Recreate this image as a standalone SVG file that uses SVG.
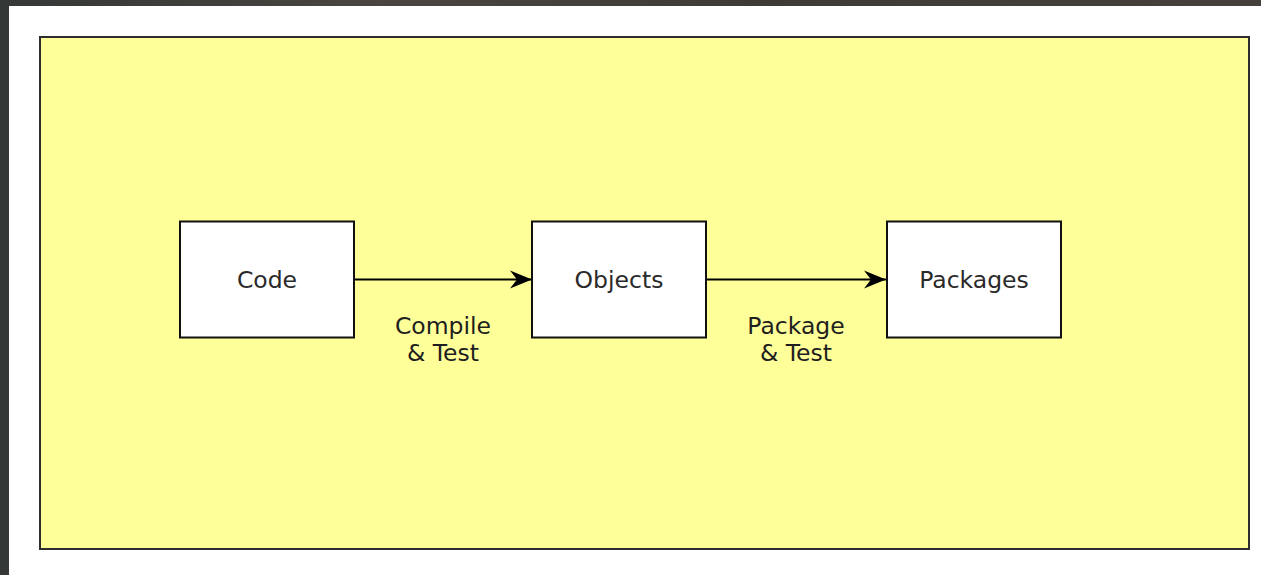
<svg xmlns="http://www.w3.org/2000/svg" width="1261" height="575" viewBox="0 0 1261 575">
  <defs>
    <linearGradient id="backdrop" x1="0" y1="0" x2="1" y2="0">
      <stop offset="0" stop-color="#343836"/>
      <stop offset="0.3" stop-color="#4a4540"/>
      <stop offset="0.6" stop-color="#3e3b37"/>
      <stop offset="1" stop-color="#45403a"/>
    </linearGradient>
    <marker id="arrow" viewBox="-23 -10 24 20" refX="0" refY="0" markerWidth="24" markerHeight="20" markerUnits="userSpaceOnUse" orient="auto">
      <path d="M0,0 L-22,-9 L-15,0 L-22,9 Z" fill="#000"/>
    </marker>
  </defs>
  <style>
    .frame { fill: #ffff99; stroke: #2e2e2e; stroke-width: 2; }
    .node rect { fill: #ffffff; stroke: #111; stroke-width: 2; }
    .node text { font-family: "DejaVu Sans", sans-serif; font-size: 23.5px; fill: #2a2a2a; text-anchor: middle; }
    .edge { stroke: #000; stroke-width: 2; fill: none; marker-end: url(#arrow); }
    .label { font-family: "DejaVu Sans", sans-serif; font-size: 23.5px; fill: #1e1e1e; text-anchor: middle; }
  </style>

  <!-- page backdrop and sheet -->
  <rect x="0" y="0" width="1261" height="575" fill="url(#backdrop)"/>
  <rect x="9" y="6" width="1252" height="569" fill="#ffffff"/>

  <!-- build pipeline panel -->
  <rect class="frame" x="40" y="37" width="1209" height="512"/>

  <!-- connectors -->
  <g id="connectors">
    <line class="edge" x1="354" y1="279.5" x2="532" y2="279.5"/>
    <line class="edge" x1="706" y1="279.5" x2="886" y2="279.5"/>
    <text class="label" x="443" y="334">Compile</text>
    <text class="label" x="443" y="361">&amp; Test</text>
    <text class="label" x="796" y="334">Package</text>
    <text class="label" x="796" y="361">&amp; Test</text>
  </g>

  <g id="code" class="node">
    <rect x="180" y="221.5" width="174" height="116"/>
    <text x="267" y="288">Code</text>
  </g>

  <g id="objects" class="node">
    <rect x="532" y="221.5" width="174" height="116"/>
    <text x="619" y="288">Objects</text>
  </g>

  <g id="packages" class="node">
    <rect x="887" y="221.5" width="174" height="116"/>
    <text x="974" y="288">Packages</text>
  </g>
</svg>
